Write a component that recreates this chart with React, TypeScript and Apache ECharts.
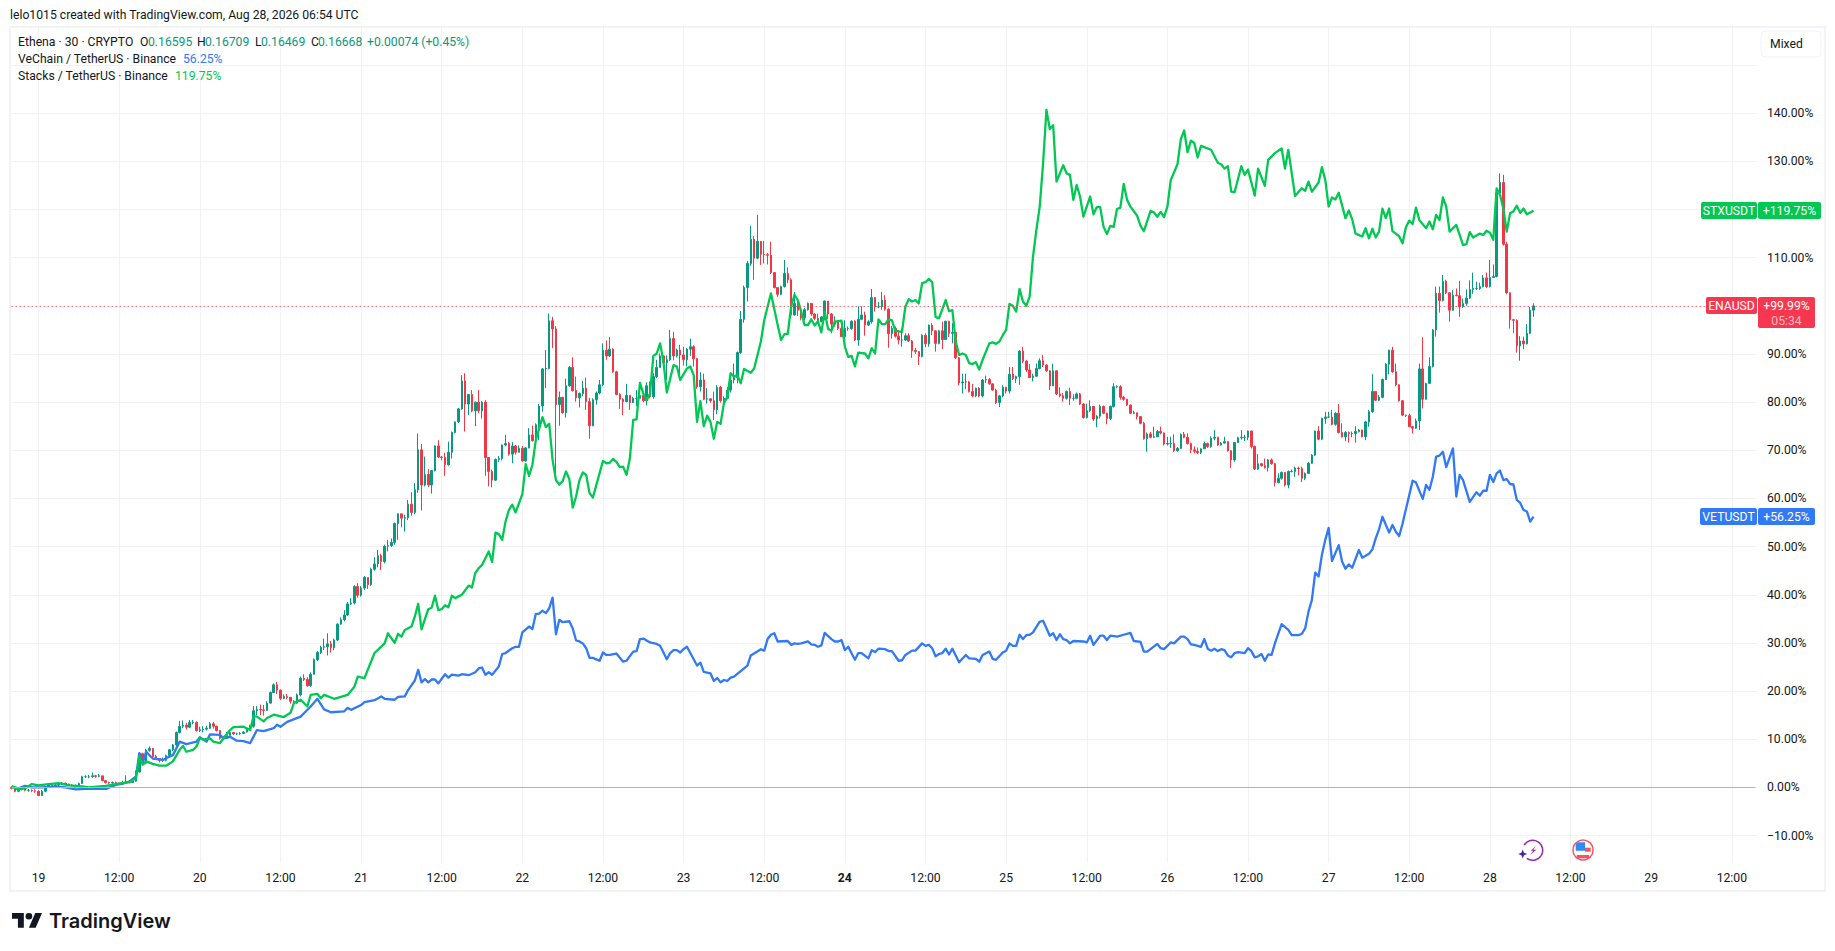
import { useEffect, useRef } from "react";
import * as echarts from "echarts";

const FONT = "Roboto, 'Noto Sans', sans-serif";
const TEXT = "#131722";
const GRID = "#f2f2f3";
const UP = "#089981";
const DOWN = "#f23645";
const VET = "#3179f5";
const STX = "#00c853";

// one bar per 30 minutes, axis starts 8 bars before the 19th and runs on into the 29th
const dayLabels = ["19", "20", "21", "22", "23", "24", "25", "26", "27", "28", "29"];
const BAR_COUNT = 520;
const categories: string[] = [];
for (let i = 0; i < BAR_COUNT; i++) {
  const bar = i - 8;
  if (bar >= 0 && bar % 48 === 0) categories.push(dayLabels[bar / 48]);
  else if (bar >= 0 && bar % 48 === 24) categories.push("12:00");
  else categories.push("");
}

const yTicks = [-10, 0, 10, 20, 30, 40, 50, 60, 70, 80, 90, 100, 110, 120, 130, 140, 150];
// 100 and 120 sit behind the price tags, 150 behind the Mixed button
const yLabels = [-10, 0, 10, 20, 30, 40, 50, 60, 70, 80, 90, 110, 130, 140];

// ENA candles in percent from the first bar
const enaClose = [
  -0.2, -0.8, -0.3, -0.3, -0.6, -0.6, -0.7, -0.8, -1.7, -0.8,
  0, 0.7, 0.4, 0.5, 0.7, 0.9, 0.7, 0.5, 0.4, 0.3,
  0.8, 2.2, 2.2, 2.2, 2.4, 2.3, 2.4, 1.4, 1, 0.9,
  1, 0.9, 0.7, 1, 1.3, 1, 1.3, 3.2, 7, 5,
  7.7, 8.1, 6.4, 6, 5.6, 5.6, 6.6, 7.8, 8.8, 11.4,
  12.7, 12.9, 12.5, 13.5, 13.5, 11.8, 12, 12.1, 12.3, 13.2,
  12.7, 11.8, 10.2, 10.2, 10.8, 11.4, 11.1, 11.1, 11.2, 11.5,
  12.2, 12.7, 15.9, 16.2, 16.1, 16, 17.5, 19.7, 21.3, 20.2,
  18.5, 18.9, 18.7, 17.9, 17.5, 19.2, 22.7, 22.4, 21.1, 23.5,
  26.5, 28, 29.1, 29.2, 29.8, 29, 30.6, 33.9, 34.8, 35.8,
  38.1, 38.3, 41.7, 39.9, 41.4, 43.6, 42.1, 45.3, 46.4, 48.1,
  46.9, 50.1, 50.2, 50.9, 54.8, 56.8, 55.9, 56, 58.8, 57.1,
  61.8, 70.1, 62.8, 65, 62.8, 65.8, 70.9, 68.6, 68.5, 67,
  69.6, 73.7, 75.9, 78.6, 84.4, 79.6, 81.6, 78.2, 80, 78.2,
  80, 68.5, 65.6, 63.8, 68.1, 68.3, 71.1, 71.4, 69.2, 70.9,
  69.6, 70.4, 67.8, 70.5, 73.2, 72, 75.3, 79.2, 86.9, 87,
  96.9, 95.2, 79.5, 81, 77.8, 83.4, 87.2, 82.4, 80.9, 81.8,
  82.9, 80.1, 75.1, 80.5, 81.9, 83.6, 90.8, 89.6, 91, 86.3,
  81.6, 80.6, 80.1, 81.4, 79.9, 80.8, 80.8, 81.4, 80.3, 83.4,
  81.1, 85.3, 87.2, 89.6, 88.2, 88.8, 93.2, 89.6, 90.8, 89.8,
  88.8, 91, 91.5, 89, 83.2, 84.6, 80.6, 80.7, 80.3, 78.4,
  83.1, 80.3, 80.8, 82.5, 84.6, 85.1, 90.3, 97.2, 103.8, 108.8,
  113.8, 109.9, 113.4, 110.7, 110.6, 110.5, 106.9, 103.8, 102.4, 104,
  106.7, 105.4, 98.1, 100.5, 99.1,
  97.5, 99.2, 100.5, 98.3, 97.4, 96.7, 97.7, 101, 98.3, 96.2,
  96.7, 95.3, 93.6, 95.3, 95.3, 96.8, 92.9, 97.2, 98.1, 96,
  96.7, 101.7, 99.8, 99.8, 101.2, 99.3, 94.2, 95.3, 93.7, 92.9,
  92.9, 93.8, 92.7, 90.7, 90.5, 89.5, 93.9, 92.1, 96, 94.8,
  92.2, 94.8, 93, 96.8, 94.3, 94.5, 89.2, 84, 84.2, 84.2,
  82.2, 81.3, 82.9, 81.3, 84.6, 84.7, 83.8, 82.5, 79.9, 81.3,
  83.1, 82.3, 85.8, 84.9, 85.3, 90.6, 88.5, 86.7, 85.1, 85.4,
  87, 88.6, 87.7, 86.5, 83.4, 86.5, 81.7, 81.3, 80.8, 82.2,
  80.8, 80.8, 81.7, 79.6, 76.8, 78.2, 79.1, 76.5, 77.1, 79.1,
  77.7, 76.6, 79.1, 83.2, 83.2, 81, 80.6, 79.4, 77.7, 77.8,
  77, 75.6, 72.4, 73.4, 72.7, 72.8, 73.9, 73.6, 71.3, 71.4,
  71.4, 69.9, 70.4, 73.3, 72.7, 71.4, 70.1, 69.8, 69.5,
  70.3, 71.4, 70.8, 72.5, 72.7, 71.1, 71.5, 71.8, 69.9, 68,
  71.6, 72.6, 72.7, 72.7, 74, 70.8, 66.1, 67.2, 66.8, 66.4,
  68, 67.2, 63.3, 64.2, 65.4, 62.8, 65.6, 65.6, 66.3, 66.2,
  64.2, 65.2, 67.3, 69, 74, 72.3, 76.6, 76.9, 76.9, 75.4,
  77.7, 73.7, 72.8, 73.7, 73.5, 73.5, 73.9, 74.2, 72.8, 75.9,
  78, 82.2, 80.4, 81, 84.7, 87.9, 90.8, 86.3, 83.6, 80.3,
  77.3, 77.2, 74.9, 74.6, 76.1, 86.9, 80.6, 83.9, 87.4, 95,
  102.6, 101.1, 105.1, 102.7, 99.1, 102.2, 102.1, 99.8, 100.5, 101.6,
  103.4, 103.6, 103.6, 104, 105.8, 104, 105.9, 106.1, 123.4, 125.6,
  112.8, 102.7, 97.1, 97, 91.7, 92.7, 92.1, 94.3, 99.1, 99.99,
];

const enaHigh = [
  0.2, -0.1, 0.1, 0.1, -0.2, -0.3, -0.4, -0.4, -0.6, -0.5,
  0.1, 0.9, 0.9, 0.8, 0.9, 1.1, 1, 0.8, 0.7, 0.6,
  1, 2.4, 2.5, 2.6, 3.1, 2.6, 2.8, 2.4, 1.2, 1.2,
  1.2, 1.2, 1, 1.4, 2.5, 1.5, 1.7, 3.5, 7.3, 7.2,
  8, 8.5, 8.1, 6.8, 6.1, 6.2, 6.8, 8, 9, 11.6,
  13.8, 13.9, 13.4, 14, 14, 13.7, 12.6, 12.7, 12.8, 13.6,
  13.6, 12.8, 11.9, 10.7, 11.5, 11.7, 11.5, 11.4, 11.5, 11.7,
  12.5, 13, 16.9, 16.9, 17.2, 17.1, 17.9, 19.9, 21.6, 21.9,
  20.3, 19.3, 19.4, 18.8, 18.1, 19.5, 23, 23.5, 22.9, 23.9,
  26.8, 28.3, 29.4, 30.9, 32, 30.4, 30.9, 34.1, 35.3, 36.8,
  38.5, 39.3, 42, 42.4, 41.8, 43.9, 43.6, 45.6, 47.8, 49.3,
  48.5, 50.4, 51.4, 51.7, 55, 56.9, 56.8, 56.6, 59.7, 61.3,
  63.2, 73.5, 71.3, 68.7, 66.1, 65.9, 71, 72.1, 68.8, 69.5,
  71.8, 73.9, 76, 78.8, 85.6, 86, 81.7, 82.5, 80.1, 82.5,
  80.2, 80.4, 68.5, 66, 68.3, 68.8, 71.2, 73.2, 71.7, 71.7,
  71.1, 71, 70.9, 70.7, 74.6, 75.1, 75.6, 79.6, 87.1, 90.8,
  98.4, 97.7, 95.8, 82.2, 81.1, 84.9, 87.5, 89.3, 85.3, 82,
  84.4, 85.1, 80.9, 80.8, 82.2, 84.6, 92.2, 92.8, 93.5, 91.2,
  86.5, 81.9, 80.8, 83.8, 81.5, 81.1, 82.5, 82.2, 81.6, 84.1,
  84.3, 86, 88.8, 90.1, 89.7, 89.7, 95, 94.6, 91.1, 91.9,
  91.5, 91.2, 93.2, 91.8, 89.2, 86.2, 85.9, 82.9, 80.7, 82.2,
  83.5, 83.4, 81.2, 83.1, 86, 88, 90.5, 98.9, 104.2, 109.3,
  116.6, 114.5, 118.9, 113.2, 113.5, 111, 113.3, 104, 102.6, 104.2,
  109.5, 108, 105.7, 102.9, 100.9,
  99.2, 99.6, 100.7, 100.5, 98.5, 98.4, 97.9, 101.1, 101, 98.5,
  97.8, 97, 96.7, 97, 95.7, 97, 97, 99.9, 99.9, 98.8,
  97, 103.5, 101.8, 100.8, 102.9, 102.2, 99.5, 95.8, 95.7, 95,
  95.3, 94.3, 94.3, 92.9, 91.3, 90.6, 94.1, 94.3, 96.1, 96.4,
  94.9, 95, 96.7, 96.9, 96.9, 96.4, 94.3, 89.4, 85.9, 85.9,
  84.4, 83.8, 83, 83.1, 84.8, 85.5, 85, 83.9, 82.8, 81.5,
  83.5, 83.2, 87.3, 87.3, 85.5, 90.8, 91.5, 88.8, 87.9, 85.9,
  88, 89.1, 89.8, 87.9, 86.6, 88, 86.6, 83.1, 81.9, 82.4,
  83, 81.6, 82, 81.9, 79.8, 79.7, 80.4, 79.2, 77.3, 79.5,
  79.3, 77.8, 79.3, 83.9, 83.5, 83.5, 81.3, 80.7, 79.5, 78.2,
  77.8, 77, 75.9, 73.7, 73.8, 74.9, 74.2, 74.9, 73.7, 72.8,
  72.8, 73.3, 70.7, 73.5, 73.8, 73.5, 71.6, 70.8, 70.6,
  70.4, 71.8, 71.6, 72.9, 74.2, 72.8, 71.7, 72.8, 71.9, 70,
  71.7, 72.8, 74.2, 73.2, 74.1, 74.1, 71, 69.2, 67.4, 68.3,
  68.2, 68.3, 67.4, 65.2, 65.6, 65.5, 65.8, 66, 66.6, 66.6,
  66.6, 65.4, 67.6, 69.2, 74.1, 75, 76.8, 78, 78, 78.4,
  77.9, 79.6, 75.6, 74, 73.9, 73.9, 75, 74.4, 74.3, 76.1,
  78.4, 85.8, 82.3, 81.5, 84.9, 88.1, 90.9, 91.5, 88, 83.7,
  80.4, 77.4, 77.6, 75, 76.6, 88, 93.5, 84, 89.3, 95.2,
  104, 104, 106.4, 105.4, 102.9, 103.3, 103.6, 105.2, 101.5, 103.4,
  105.3, 106.9, 105, 104.8, 106.4, 106.9, 109.5, 108.6, 123.6, 127.5,
  127.2, 113.3, 102.8, 97.3, 97.2, 93.7, 93.6, 96.2, 99.8, 100.5,
];

const enaLow = [
  -0.4, -1, -1, -0.6, -0.8, -0.9, -1, -1.1, -1.8, -1.8,
  -1, -0.1, 0.2, 0.2, 0.3, 0.5, 0.5, 0.3, 0.2, 0.1,
  0.2, 0.7, 2, 1.9, 2, 2, 2.1, 1.3, 0.8, 0.7,
  0.7, 0.7, 0.5, 0.6, 0.9, 0.8, 0.9, 1.2, 3.1, 4.6,
  4.8, 7.4, 6.2, 5.7, 5.2, 5.3, 5.4, 6.4, 7.5, 8.5,
  11.2, 12.3, 12, 12.3, 13.1, 11.6, 11.5, 11.4, 11.8, 12.1,
  12.2, 11.6, 9.9, 9.8, 10.1, 10.7, 10.9, 10.9, 10.9, 11.1,
  11.4, 12.1, 12.4, 15, 15, 14.9, 15.9, 17.4, 19.6, 19.4,
  18.1, 18.3, 18.3, 17.4, 17, 17.3, 18.9, 22.1, 20.9, 20.9,
  23.4, 26.2, 27.7, 28.5, 27.4, 28, 28.5, 30.4, 33.8, 34.5,
  35.6, 37.9, 38, 39.4, 39.6, 41, 41.2, 41.8, 45, 45.7,
  45.1, 46.5, 49, 49.9, 50.4, 51.4, 54, 53.1, 55.5, 56.4,
  56.7, 61.2, 57.5, 62.5, 62.4, 61, 65.6, 68.4, 67.9, 64.7,
  66.8, 68.3, 73.5, 75.7, 78.4, 73.9, 77.3, 77.9, 75, 77.7,
  76.6, 64.7, 62.5, 62.3, 63.6, 67.6, 67.9, 70.8, 68.9, 67.3,
  69.1, 69.8, 67.6, 67.6, 70.4, 71.8, 72, 72.1, 78, 82.9,
  86.8, 91.2, 64.9, 75.1, 77.6, 76.8, 83.2, 82.2, 80.1, 78.9,
  81.2, 78.4, 72.4, 75, 79.5, 81.6, 83.3, 88.8, 89.4, 86.1,
  81.4, 78.6, 77.3, 80, 78.4, 80.6, 79.2, 80.8, 80, 79.3,
  80.8, 80.7, 85, 87.2, 87, 84.6, 88.5, 88.7, 89.3, 85.3,
  87.6, 87.4, 89.6, 87.4, 82.8, 82.2, 80.4, 79.7, 79.9, 76.3,
  77.5, 79.9, 79, 80.6, 82, 83.9, 83.9, 90, 96.5, 100.9,
  108.3, 105.4, 109.7, 108.5, 108.8, 108.6, 106.6, 103.6, 101.9, 102.2,
  103.8, 104.7, 97.9, 98, 97.9,
  97, 97, 99, 97.9, 97, 96.2, 96.6, 97, 97.3, 94.3,
  95.7, 95, 93.6, 91.7, 94.8, 95, 92.7, 91.7, 97, 93.8,
  95.8, 96.3, 98.8, 99.5, 99.2, 99, 91.3, 93.2, 93.4, 92,
  91.5, 92.7, 92.5, 89.2, 90, 87.7, 89.3, 91.4, 91.5, 93.9,
  90.5, 92, 91, 93, 93.5, 92.2, 89, 83.5, 81.8, 82.7,
  82, 81, 81, 81, 81, 84, 83.6, 82.4, 79.6, 79,
  81, 81.8, 81.8, 84.6, 84, 83.6, 88.1, 86.3, 85.1, 84.3,
  85.2, 86.8, 87.3, 86.3, 82.5, 83.3, 81.5, 81, 80.1, 80.5,
  79.4, 80.3, 80.6, 79.4, 76.6, 76.6, 78, 76.1, 74.8, 76.6,
  77.5, 75.4, 76.3, 78.9, 82.9, 80.5, 80.3, 79.2, 77.5, 77.5,
  76.4, 75.4, 72.2, 69.7, 72.5, 72.6, 72.8, 73.3, 71, 71,
  70.5, 69.7, 69.7, 70.3, 72.5, 71.2, 69.4, 69.4, 69.2,
  69.2, 70.3, 70.5, 70.5, 72.1, 70.9, 71, 71.4, 69.7, 66.3,
  67.6, 71.5, 72.2, 71.9, 72.1, 70.4, 65.9, 65.9, 66.6, 66.2,
  65.6, 67, 62.5, 63.1, 63.9, 62.5, 62.1, 65.4, 64.5, 64.8,
  63.4, 63.8, 65.2, 67.2, 68.8, 72.1, 72.1, 75.5, 76.7, 75.2,
  75.1, 73.5, 72.7, 71.9, 71.6, 72.7, 71.6, 73.7, 72.7, 72.1,
  74.9, 77.8, 80.2, 80.2, 80.8, 84.6, 85.8, 86.1, 83.3, 80.1,
  77.1, 76.9, 74.8, 73.5, 74.4, 74.2, 78.7, 80.8, 83.8, 87.2,
  93.6, 98.6, 100.9, 102.4, 96.7, 99, 102, 97.7, 99.6, 100,
  101.4, 102.5, 103.3, 103.3, 103.8, 103.7, 103.8, 105.9, 105.9, 122.9,
  112.5, 102.4, 95.3, 94.3, 90.3, 88.6, 91, 92, 94.1, 97.7,
];

// [bar, percent] at the line's turning points
const vetPoints = [
  [0, 0.2], [2, -0.2], [4, 0.3], [6, 0], [9, 0], [13, 0.2], [16, 0], [19, -0.4], [22, -0.3], [28, -0.3],
  [31, 0.5], [33, 0.8], [35, 1.2], [37, 2.3], [38, 7.1], [39, 5], [40, 7.4], [42, 6], [45, 5.7], [47, 6.4],
  [48, 6.7], [50, 9.5], [52, 9], [55, 9.5], [56, 10.4], [58, 9.5], [59, 11], [62, 10.9], [63, 10.2], [65, 10.5],
  [67, 9.7], [69, 9.6], [71, 9.2], [73, 11.9], [75, 11.7], [78, 12.3], [79, 13], [80, 12.6], [82, 13.6], [86, 14.7],
  [87, 15.4], [89, 16.8], [91, 18.4], [93, 16.2], [95, 15.6], [99, 15.8], [100, 16.5], [101, 16.1], [104, 17.1], [105, 17.7],
  [108, 18.1], [110, 18.9], [111, 18.4], [114, 18.2], [115, 18.8], [117, 18.9], [118, 20.2], [120, 22.2], [121, 24.4], [122, 21.8],
  [123, 22.5], [124, 21.8], [125, 22.4], [126, 22.4], [127, 21.6], [129, 23.5], [130, 22.8], [131, 23.4], [133, 23.2], [134, 23.5],
  [136, 23.3], [138, 23.9], [139, 24.7], [140, 24.9], [141, 23.4], [142, 23.9], [143, 23.4], [145, 25.1], [146, 27.7], [147, 27.9],
  [149, 28.9], [150, 29.2], [151, 29.2], [152, 32.2], [154, 33.4], [155, 32.9], [156, 36], [157, 36.1], [158, 36.7], [159, 36.2],
  [160, 37.2], [161, 39.4], [162, 31.8], [163, 34.8], [164, 34.3], [166, 34.5], [167, 33], [168, 30.5], [169, 30.3], [170, 29.9],
  [171, 28.9], [172, 26.9], [173, 26.9], [175, 26.3], [176, 28], [177, 27.5], [178, 27.5], [180, 27.8], [182, 26.1], [183, 26.3],
  [185, 28.2], [186, 28.3], [187, 30.8], [188, 30.9], [190, 30.1], [192, 29.8], [193, 29.4], [195, 26.6], [196, 27.9], [197, 28.5],
  [198, 28.5], [199, 28], [200, 28.7], [201, 29.2], [202, 27.9], [204, 25.3], [205, 25.9], [206, 24], [208, 23.7], [209, 22.1],
  [210, 22.7], [211, 21.8], [212, 22.3], [213, 22.1], [214, 22.8], [215, 23], [219, 25.3], [220, 27.4], [223, 28.7], [224, 28.4],
  [225, 30.8], [226, 31.7], [227, 32], [228, 30.3], [231, 30.4], [232, 29.6], [233, 29.9], [234, 29.8], [235, 29.9], [237, 30.3],
  [238, 29.7], [239, 29.6], [240, 29.2], [241, 29.5], [242, 32.1], [244, 30.8], [245, 30.3], [246, 30.3], [247, 30.6], [248, 28.5],
  [249, 29.2], [251, 26.5], [252, 27.9], [253, 27.9], [255, 26.8], [256, 28.5], [257, 28.1], [258, 28.8], [260, 28.7], [261, 28.3],
  [262, 28.3], [264, 26.3], [265, 26.4], [266, 27.5], [268, 28.4], [269, 28.4], [271, 29.9], [272, 29.4], [273, 29.6], [274, 28.9],
  [275, 27.2], [276, 27.7], [277, 27.9], [278, 28.8], [279, 27.6], [280, 28.8], [282, 26], [284, 27.5], [285, 26.8], [287, 26.7],
  [288, 26.1], [289, 27.5], [291, 28.2], [292, 26.7], [293, 26.5], [295, 28], [296, 28.4], [297, 29.9], [298, 29.4], [299, 29.4],
  [300, 31.7], [301, 30.8], [302, 31.6], [303, 31.7], [304, 32.2], [306, 34.4], [307, 34.6], [309, 31.5], [310, 32], [311, 30.6],
  [312, 31.8], [313, 30.8], [314, 30.6], [315, 29.9], [316, 30.4], [319, 30.3], [320, 30.1], [321, 31.5], [322, 29.6], [324, 31.5],
  [325, 31.5], [326, 30.6], [327, 31.5], [329, 31.3], [331, 31.7], [333, 32.1], [334, 30.4], [336, 30.2], [337, 28.2], [338, 28.2],
  [341, 29.8], [342, 28.9], [343, 28.7], [345, 30.1], [346, 29.9], [348, 31.3], [349, 31.3], [350, 30.8], [351, 29.7], [352, 29.6],
  [354, 29.2], [355, 30.8], [356, 28.8], [357, 28.4], [358, 28.8], [359, 28.3], [360, 28.7], [361, 28.5], [362, 27.4], [363, 27],
  [364, 27.9], [365, 28.1], [367, 27.9], [368, 28.9], [369, 28.3], [370, 27], [371, 27.2], [372, 27.7], [373, 26.3], [374, 27.6],
  [375, 27.5], [376, 29.9], [378, 33.9], [380, 32.7], [381, 31.6], [383, 31.6], [384, 31.9], [385, 33], [386, 36.5], [387, 38.9],
  [388, 44.6], [389, 43.8], [390, 48.3], [391, 51.4], [392, 53.9], [393, 47], [395, 50.3], [396, 46.9], [397, 45.4], [398, 46.3],
  [399, 45.6], [401, 49.3], [402, 47.7], [404, 48.5], [405, 49.4], [406, 51.7], [407, 53.6], [408, 56.2], [410, 52.9], [411, 54.5],
  [412, 53.1], [413, 52.2], [414, 54.8], [417, 63.7], [418, 63.3], [420, 59.9], [421, 62.8], [422, 61.8], [423, 64.5], [424, 68.7],
  [425, 68.9], [426, 69.7], [427, 66.5], [429, 70.4], [430, 60.4], [431, 64.9], [432, 63.8], [434, 59.3], [436, 61.3], [437, 60.6],
  [438, 61.6], [439, 61.6], [440, 64.9], [441, 63.4], [442, 65.2], [443, 65.8], [444, 63.8], [445, 64], [446, 63], [447, 62.9],
  [448, 59.7], [449, 59.1], [450, 57.6], [451, 57.3], [452, 55.2], [453, 56.25],
];

const stxPoints = [
  [0, 0.2], [2, -0.4], [4, -0.2], [6, 0.7], [8, 0.4], [11, 0.7], [14, 0.9], [17, 0.4], [21, 0.2], [23, 0],
  [28, 0.3], [31, 0.7], [35, 1.1], [37, 1.9], [38, 6.4], [39, 4.7], [40, 5.4], [42, 4.9], [44, 4.5], [46, 4.5],
  [48, 5.4], [50, 7.8], [51, 8.6], [52, 7.4], [54, 7.8], [55, 8.5], [56, 10.2], [57, 9.9], [59, 10.2], [60, 9.5],
  [62, 9.2], [63, 10.2], [65, 11.9], [66, 12.5], [69, 12.6], [71, 11.9], [72, 14.8], [73, 14.7], [75, 13.7], [76, 14.4],
  [78, 15.1], [81, 14.6], [83, 15.5], [84, 17.5], [86, 18.2], [88, 16.8], [89, 19.2], [91, 19.4], [92, 18.5], [93, 19.2],
  [96, 18.4], [100, 19.2], [102, 20.9], [103, 23], [105, 22.7], [108, 27.9], [111, 29.9], [112, 32], [114, 30], [115, 31.9],
  [116, 31.3], [117, 32.7], [119, 33.4], [120, 35.5], [121, 38.1], [122, 32.8], [124, 37], [125, 37.3], [126, 39.8], [127, 36.8],
  [128, 37], [129, 37.8], [130, 37.4], [131, 39.8], [132, 39.3], [134, 40], [136, 41.9], [137, 41.5], [138, 44.5], [139, 45.5],
  [140, 46.2], [142, 49], [143, 46.8], [144, 52.9], [145, 52.6], [146, 51.4], [147, 55.2], [148, 57.6], [149, 58.7], [150, 57.1],
  [152, 60.9], [153, 67.1], [154, 64.7], [155, 67], [156, 72.1], [158, 76.9], [159, 74.8], [160, 75.5], [161, 68], [162, 63.8],
  [163, 62.9], [164, 63.6], [165, 65.6], [166, 64], [167, 58.1], [168, 60.4], [169, 63.8], [170, 65.4], [171, 64.9], [172, 61.1],
  [173, 60.2], [176, 67.8], [177, 67.3], [178, 67.4], [179, 68.2], [180, 67.6], [181, 66.5], [182, 66.6], [183, 64.9], [184, 68.3],
  [185, 76.3], [186, 76.4], [187, 84], [188, 81.8], [189, 80.4], [190, 81.8], [191, 89.6], [192, 90.1], [193, 92.2], [194, 88.4],
  [195, 82], [197, 87.7], [198, 87.4], [199, 84.6], [201, 87], [202, 87.4], [203, 85.6], [204, 75.9], [205, 80.2], [206, 75],
  [207, 77.2], [208, 75.9], [209, 72.4], [210, 75.9], [211, 75.5], [212, 79.8], [213, 81.1], [214, 86], [215, 85.3], [216, 85.6],
  [217, 83.9], [218, 86.9], [220, 86.1], [221, 87], [223, 92.6], [224, 97], [226, 102.6], [228, 96], [229, 92.9], [230, 94.1],
  [231, 94.2], [232, 99.8], [233, 102.3], [234, 101.2], [235, 98.8], [236, 96], [237, 96], [238, 97.2], [239, 95.9], [240, 96.8],
  [241, 94.5], [242, 98.8], [243, 95.2], [244, 94.8], [245, 96.7], [247, 96.9], [248, 91.5], [249, 89.4], [250, 89.6], [251, 87.4],
  [252, 90.3], [254, 90.1], [255, 89.1], [256, 91.2], [257, 90.1], [258, 97.2], [259, 96.2], [260, 96.2], [261, 97.2], [262, 97],
  [263, 94.8], [265, 94.6], [266, 99.8], [267, 101.4], [268, 100.9], [269, 101.2], [270, 100.5], [271, 104.7], [272, 104.9], [273, 105.6],
  [274, 104.9], [275, 97.7], [276, 97.4], [278, 101.2], [279, 98.9], [280, 99.1], [281, 92.6], [282, 89.8], [283, 90.1], [284, 89.8],
  [285, 88.1], [286, 87.9], [287, 88.3], [288, 86.8], [289, 88.8], [291, 92.2], [292, 92.4], [293, 92.1], [294, 92.6], [295, 93.9],
  [296, 95], [297, 100.4], [298, 100], [299, 98.8], [300, 103.5], [301, 100.9], [302, 100], [303, 101.9], [304, 110.2], [305, 115.7],
  [306, 120.6], [307, 129.6], [308, 140.7], [309, 136.7], [310, 137.5], [311, 125.8], [313, 129.2], [314, 127.5], [315, 127.2], [316, 122],
  [317, 125.1], [318, 122.7], [319, 118.5], [321, 122.7], [322, 119], [323, 120.5], [324, 120.5], [325, 116.4], [326, 114.9], [327, 116.6],
  [328, 116.4], [329, 120.1], [330, 120.4], [331, 125.3], [332, 122], [333, 120.6], [335, 118.7], [336, 116.6], [337, 115.5], [339, 119.7],
  [340, 119.4], [341, 118.5], [342, 119.5], [343, 118.4], [344, 120.6], [345, 126.1], [347, 129.4], [348, 134.6], [349, 136.4], [350, 131.9],
  [351, 134.3], [352, 133.8], [353, 130.8], [354, 133.2], [357, 132.4], [359, 129.7], [360, 129.4], [361, 128.5], [362, 129], [363, 123.7],
  [364, 123.6], [366, 129], [367, 127.2], [368, 128.3], [370, 122.9], [371, 128.5], [373, 124.9], [374, 130.3], [376, 131.7], [378, 132.7],
  [379, 128.5], [380, 132.4], [382, 122.8], [384, 124.4], [385, 123.9], [386, 125.8], [387, 123.7], [389, 125.6], [390, 128.8], [391, 126.1],
  [392, 120.6], [393, 122.5], [394, 122.1], [395, 123.5], [397, 118.2], [398, 119.8], [399, 118], [400, 115], [402, 114.4], [403, 116.1],
  [404, 114], [405, 116], [406, 114.2], [407, 115.4], [408, 120.2], [409, 118.2], [410, 120.2], [411, 115.5], [412, 115], [413, 114.4],
  [414, 113], [415, 116.3], [416, 117.7], [417, 117], [418, 120.4], [419, 117.8], [421, 116.1], [422, 117.5], [423, 115.9], [424, 118.9],
  [425, 117.8], [426, 122.5], [427, 120.6], [428, 115.4], [430, 116.8], [432, 112.6], [433, 112.8], [434, 115.3], [435, 114.2], [437, 115],
  [438, 114.7], [439, 115.6], [440, 115.2], [441, 113.7], [442, 124.4], [443, 123], [444, 120.2], [445, 115.4], [446, 119.2], [447, 119.6],
  [448, 120.8], [449, 119.3], [450, 120.2], [451, 119], [453, 119.75],
];

const ENA_LAST = 99.99;
const VET_LAST = 56.25;
const STX_LAST = 119.75;
const PRICE_LINE_END_BAR = 505;

function label(text: string, x: number, y: number, fill = TEXT, extra: object = {}) {
  return {
    type: "text",
    x,
    y,
    z: 20,
    silent: true,
    style: { text, fill, font: `12.2px ${FONT}`, verticalAlign: "middle", ...extra },
  };
}

function tag(name: string, value: string, y: number, nameX: number, valueW: number, color: string, h = 17) {
  const top = Math.round(y - 8.5);
  return [
    { type: "rect", z: 10, silent: true, shape: { x: nameX, y: top, width: 1757 - nameX, height: 17, r: 2 }, style: { fill: color } },
    { type: "rect", z: 10, silent: true, shape: { x: 1758, y: top, width: valueW, height: h, r: 2 }, style: { fill: color } },
    label(name, (nameX + 1757) / 2, top + 9, "#ffffff", { align: "center" }),
    label(value, 1758 + valueW / 2, top + 9, "#ffffff", { align: "center" }),
  ];
}

export default function App() {
  const ref = useRef<HTMLDivElement | null>(null);

  useEffect(() => {
    if (!ref.current) {
      return;
    }
    echarts.graphic.registerShape(
      "logo",
      echarts.graphic.extendPath("M14 22H7V11H0V4h14v18zM28 22h-8l7.5-18h8L28 22zM24 8a4 4 0 1 1-8 0 4 4 0 0 1 8 0z", {})
    );
    const instance = echarts.init(ref.current, undefined, { renderer: "svg" });
    const candles = enaClose.map((close, i) => [i === 0 ? 0 : enaClose[i - 1], close, enaLow[i], enaHigh[i]]);
    const isTimeTick = (index: number) => index >= 8 && (index - 8) % 24 === 0;

    instance.setOption({
      animation: false,
      backgroundColor: "#ffffff",
      grid: { left: 10, top: 27, width: 1747, height: 836 },
      tooltip: { show: false },
      xAxis: {
        type: "category",
        data: categories,
        position: "bottom",
        axisLine: { show: false, onZero: false },
        axisTick: { show: false, alignWithLabel: true },
        splitLine: { show: true, alignWithLabel: true, interval: isTimeTick, lineStyle: { color: GRID, width: 1 } },
        axisLabel: {
          interval: isTimeTick,
          color: TEXT,
          fontFamily: FONT,
          fontSize: 12.2,
          margin: 9,
          hideOverlap: false,
          formatter: (value: string) => (value === "24" ? "{bold|24}" : value),
          rich: { bold: { fontWeight: 700, fontFamily: FONT, fontSize: 12.2, color: TEXT } },
        },
      },
      yAxis: {
        type: "value",
        position: "right",
        min: -15.7,
        max: 157.9,
        axisLine: { show: false },
        axisTick: { show: false, customValues: yTicks },
        splitLine: { show: true, lineStyle: { color: GRID, width: 1 } },
        axisLabel: {
          customValues: yLabels,
          color: TEXT,
          fontFamily: FONT,
          fontSize: 12.2,
          margin: 10,
          formatter: (value: number) => `${value < 0 ? "\u2212" : ""}${Math.abs(value).toFixed(2)}%`,
        },
      },
      series: [
        {
          type: "candlestick",
          name: "ENAUSD",
          data: candles,
          barWidth: 2,
          itemStyle: { color: UP, color0: DOWN, borderColor: UP, borderColor0: DOWN, borderWidth: 1 },
          markLine: {
            silent: true,
            symbol: "none",
            label: { show: false },
            data: [
              [
                { coord: [0, ENA_LAST], lineStyle: { color: DOWN, type: [1, 3], width: 1 } },
                { coord: [PRICE_LINE_END_BAR, ENA_LAST] },
              ],
              [
                { coord: [0, 0], lineStyle: { color: "#b2b5be", type: "solid", width: 1 } },
                { coord: [BAR_COUNT - 1, 0] },
              ],
            ],
          },
        },
        {
          type: "line",
          name: "VETUSDT",
          data: vetPoints,
          showSymbol: false,
          lineStyle: { color: VET, width: 2.3, join: "round" },
          itemStyle: { color: VET },
        },
        {
          type: "line",
          name: "STXUSDT",
          data: stxPoints,
          showSymbol: false,
          lineStyle: { color: STX, width: 2.3, join: "round" },
          itemStyle: { color: STX },
        },
      ],
    });

    const yOf = (value: number) => instance.convertToPixel({ yAxisIndex: 0 }, value) as number;
    const ringRed = "#f7525f";

    instance.setOption({
      graphic: [
        { type: "rect", silent: true, shape: { x: 10, y: 27, width: 1815, height: 864 }, style: { fill: "none", stroke: "#f2f3f5", lineWidth: 2 } },
        label("lelo1015 created with TradingView.com, Aug 28, 2026 06:54 UTC", 10, 15),
        label("Ethena \u00b7 30 \u00b7 CRYPTO", 18, 42),
        label("O", 140, 42),
        label("0.16595", 148, 42, UP),
        label("H", 197, 42),
        label("0.16709", 205, 42, UP),
        label("L", 255, 42),
        label("0.16469", 261, 42, UP),
        label("C", 311, 42),
        label("0.16668", 318, 42, UP),
        label("+0.00074 (+0.45%)", 367, 42, UP),
        label("VeChain / TetherUS \u00b7 Binance", 18, 59),
        label("56.25%", 183, 59, VET),
        label("Stacks / TetherUS \u00b7 Binance", 18, 76),
        label("119.75%", 175, 76, STX),
        { type: "rect", z: 10, silent: true, shape: { x: 1761, y: 31, width: 60, height: 26, r: 4 }, style: { fill: "#ffffff", stroke: "#f0f3fa", lineWidth: 1 } },
        label("Mixed", 1770, 44),
        ...tag("STXUSDT", "+119.75%", yOf(STX_LAST), 1701, 63, STX),
        ...tag("VETUSDT", "+56.25%", yOf(VET_LAST), 1700, 57, VET),
        ...tag("ENAUSD", "+99.99%", yOf(ENA_LAST), 1706, 57, "#f7374f", 31),
        label("05:34", 1786.5, yOf(ENA_LAST) + 15, "rgba(255,255,255,0.65)", { align: "center" }),
        // event icons on the time scale
        { type: "arc", silent: true, shape: { cx: 1532.7, cy: 850.3, r: 10, startAngle: -2.6, endAngle: 2.2, clockwise: true }, style: { stroke: "#9c27b0", lineWidth: 1.5, fill: "none" } },
        { type: "polygon", silent: true, shape: { points: [[1536, 845.7], [1530.7, 850.7], [1533.3, 850.7], [1530, 855.3], [1536.3, 849.7], [1533.3, 849.7]] }, style: { fill: "#9c27b0" } },
        { type: "polygon", silent: true, shape: { points: [[1522.7, 849.5], [1524, 852.7], [1527.2, 854], [1524, 855.3], [1522.7, 858.5], [1521.4, 855.3], [1518.2, 854], [1521.4, 852.7]] }, style: { fill: "#4527a0" } },
        { type: "circle", silent: true, shape: { cx: 1583, cy: 850, r: 10 }, style: { fill: "#ffffff", stroke: ringRed, lineWidth: 1.5 } },
        { type: "rect", silent: true, shape: { x: 1585, y: 847.7, width: 5.7, height: 4 }, style: { fill: ringRed } },
        { type: "rect", silent: true, shape: { x: 1576.7, y: 855, width: 12.6, height: 3.3 }, style: { fill: ringRed } },
        { type: "rect", silent: true, shape: { x: 1575.7, y: 842.3, width: 9.3, height: 8.4, r: [3, 0, 0, 0] }, style: { fill: "#2f8bf5" } },
        // TradingView footer
        { type: "logo", silent: true, x: 12, y: 909.6, scaleX: 0.845, scaleY: 0.83, style: { fill: "#131722" } },
        { type: "text", silent: true, x: 49, y: 921, style: { text: "TradingView", fill: "#131722", font: `600 20px Inter, ${FONT}`, verticalAlign: "middle" } },
      ],
    });

    return () => {
      instance.dispose();
    };
  }, []);

  return <div ref={ref} style={{ position: "absolute", left: 0, top: 0, width: 1835, height: 951 }} />;
}
